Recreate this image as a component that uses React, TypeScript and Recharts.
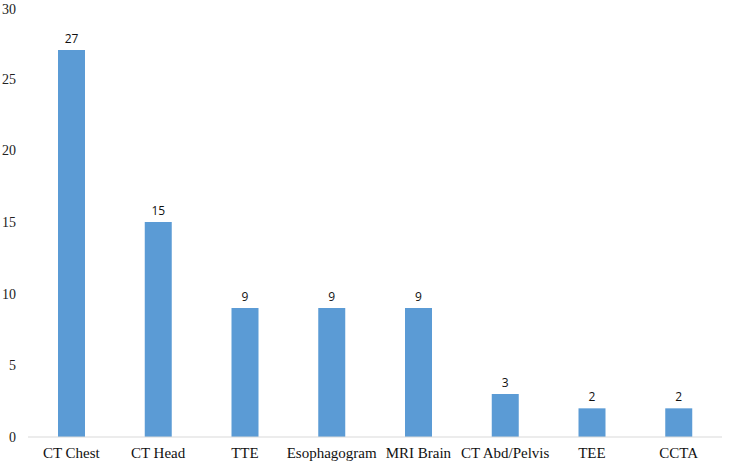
import { BarChart, Bar, XAxis, YAxis, LabelList } from "recharts";

const exams = ["CT Chest", "CT Head", "TTE", "Esophagogram", "MRI Brain", "CT Abd/Pelvis", "TEE", "CCTA"];
const counts = [27, 15, 9, 9, 9, 3, 2, 2];
const yTicks = [0, 5, 10, 15, 20, 25, 30];

const data = exams.map((name, i) => ({ name, count: counts[i] }));

const serif = "'Liberation Serif', 'Times New Roman', serif";

export default function App() {
  return (
    <div style={{ position: "absolute", left: 0, top: 0, background: "#fff", fontFamily: serif }}>
      <BarChart width={730} height={466} data={data} margin={{ top: 7, right: 8, bottom: 0, left: 0 }}>
        <XAxis
          dataKey="name"
          height={29}
          tickLine={false}
          axisLine={{ stroke: "#d9d9d9" }}
          interval={0}
          tick={{ fill: "#111", fontSize: 15, fontFamily: serif, style: { fontFamily: serif } }}
          tickMargin={4}
        />
        <YAxis
          width={28}
          domain={[0, 30]}
          ticks={yTicks}
          axisLine={false}
          tickLine={false}
          tickSize={0}
          tickMargin={12}
          tick={{ fill: "#222", fontSize: 14, fontFamily: serif, style: { fontFamily: serif } }}
        />
        <Bar dataKey="count" fill="#5b9bd5" barSize={27} isAnimationActive={false}>
          <LabelList
            dataKey="count"
            position="top"
            offset={7}
            style={{ fill: "#111", fontFamily: "'Open Sans', 'Liberation Sans', sans-serif", fontSize: 12 }}
          />
        </Bar>
      </BarChart>
    </div>
  );
}
